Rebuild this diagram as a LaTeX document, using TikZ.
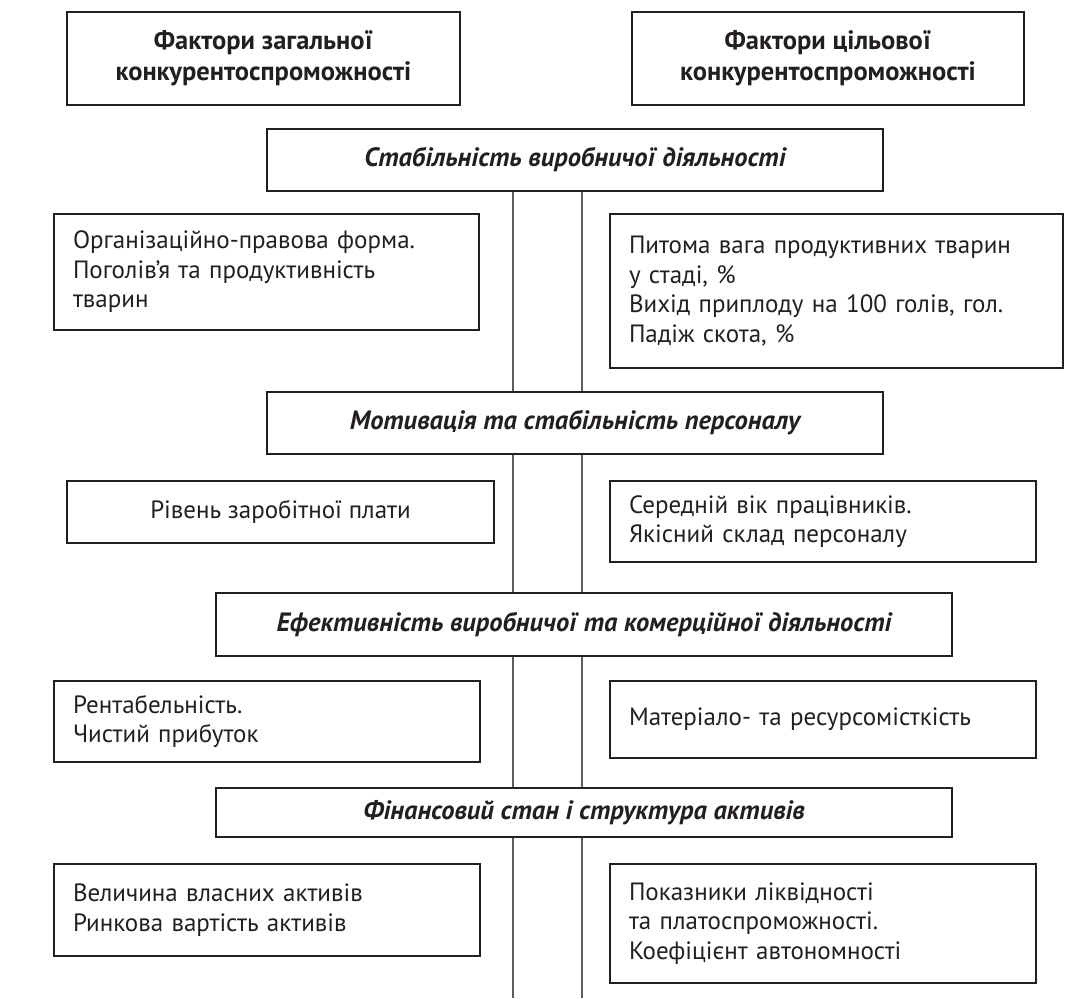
\documentclass[tikz,border=0pt]{standalone}
\usepackage{fontspec}
\setmainfont{PT Sans}
\usepackage{tikz}
\definecolor{boxcol}{HTML}{231F20}
\definecolor{linecol}{HTML}{5E5E5E}
\tikzset{
  box/.style={draw=boxcol, line width=2pt, inner sep=0pt, text=boxcol, align=center, font=\fontsize{25}{29.5}\selectfont},
  headbox/.style={box, font=\fontsize{26.5}{31}\selectfont\bfseries},
  groupbox/.style={box, font=\fontsize{26.5}{31}\selectfont\bfseries\itshape},
  listbox/.style={box, align=left, text width=388pt},
  link/.style={draw=linecol, line width=1.2pt}
}

\begin{document}
\begin{tikzpicture}[x=1pt, y=-1pt]
  \useasboundingbox (0,0) rectangle (1083,998);
  % заголовки
  \node[headbox, minimum width=393pt, minimum height=93pt] (zag) at (263.5,58.5) {Фактори загальної\\конкурентоспроможності};
  \node[headbox, minimum width=392pt, minimum height=93pt] (cil) at (828,58.5) {Фактори цільової\\конкурентоспроможності};
  % групи факторів
  \node[groupbox, minimum width=616pt, minimum height=62pt] (stab) at (575,160) {Стабільність виробничої діяльності};
  \node[groupbox, minimum width=616pt, minimum height=62pt] (motiv) at (575,423) {Мотивація та стабільність персоналу};
  \node[groupbox, minimum width=736pt, minimum height=63pt] (efekt) at (584,624.5) {Ефективність виробничої та комерційної діяльності};
  \node[groupbox, minimum width=736pt, minimum height=49pt] (fin) at (584,812.5) {Фінансовий стан і структура активів};
  % ліва колонка
  \node[listbox, text width=387pt, minimum width=425pt, minimum height=116pt] (zag1) at (266.5,272) {Організаційно-правова форма.\\Поголів’я та продуктивність\\тварин};
  \node[box, minimum width=427pt, minimum height=62pt] (zag2) at (280.5,512) {Рівень заробітної плати};
  \node[listbox, minimum width=426pt, minimum height=81pt] (zag3) at (267,721.5) {Рентабельність.\\Чистий прибуток};
  \node[listbox, minimum width=426pt, minimum height=92pt] (zag4) at (267,910) {Величина власних активів\\Ринкова вартість активів};
  % права колонка
  \node[listbox, text width=415pt, minimum width=453pt, minimum height=154pt] (cil1) at (836.5,291) {Питома вага продуктивних тварин\\у стаді, \%\\Вихід приплоду на 100 голів, гол.\\Падіж скота, \%};
  \node[listbox, minimum width=426pt, minimum height=81pt] (cil2) at (823,521.5) {Середній вік працівників.\\Якісний склад персоналу};
  \node[listbox, minimum width=426pt, minimum height=77pt] (cil3) at (823,719.5) {Матеріало- та ресурсомісткість};
  \node[listbox, minimum width=426pt, minimum height=119pt] (cil4) at (823,923.5) {Показники ліквідності\\та платоспроможності.\\Коефіцієнт автономності};
  % осьові лінії
  \coordinate (lx) at (513,0);
  \coordinate (rx) at (582,0);
  \coordinate (bot) at (0,998);
  \foreach \c in {lx, rx} {
    \draw[link] (stab.south -| \c) -- (motiv.north -| \c);
    \draw[link] (motiv.south -| \c) -- (efekt.north -| \c);
    \draw[link] (efekt.south -| \c) -- (fin.north -| \c);
    \draw[link] (fin.south -| \c) -- (bot -| \c);
  }
\end{tikzpicture}
\end{document}
